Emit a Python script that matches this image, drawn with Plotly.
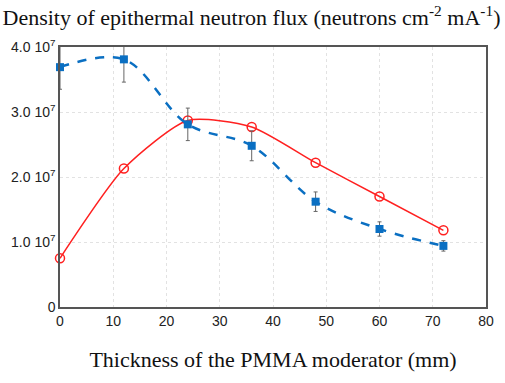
import plotly.graph_objects as go

thickness = [0, 12, 24, 36, 48, 60, 72]
red_values = [0.75e7, 2.13e7, 2.87e7, 2.77e7, 2.22e7, 1.70e7, 1.18e7]
blue_values = [3.69e7, 3.81e7, 2.81e7, 2.48e7, 1.62e7, 1.20e7, 0.94e7]
blue_errors = [0.34e7, 0.35e7, 0.25e7, 0.23e7, 0.15e7, 0.11e7, 0.08e7]
y_tickvals = [0, 1e7, 2e7, 3e7, 4e7]
y_ticktext = ["0", "1.0 10<sup>7</sup>", "2.0 10<sup>7</sup>", "3.0 10<sup>7</sup>", "4.0 10<sup>7</sup>"]
x_tickvals = [0, 10, 20, 30, 40, 50, 60, 70, 80]

fig = go.Figure()
fig.add_trace(go.Scatter(
    x=thickness, y=red_values, mode="lines+markers",
    line=dict(color="#ff2020", width=1.5, shape="spline", smoothing=0.65),
    marker=dict(symbol="circle-open", size=9, color="#ff2020", line=dict(width=1.5)),
    cliponaxis=False, showlegend=False))
fig.add_trace(go.Scatter(
    x=thickness, y=blue_values, mode="lines+markers",
    line=dict(color="#0a6fc2", width=2.5, dash="dash", shape="spline", smoothing=1.0),
    marker=dict(symbol="square", size=8, color="#0a6fc2"),
    error_y=dict(type="data", array=blue_errors, visible=True, color="#666666", thickness=1, width=2),
    cliponaxis=False, showlegend=False))

fig.update_layout(
    width=505, height=383,
    margin=dict(l=56, r=11, t=47, b=76),
    paper_bgcolor="white", plot_bgcolor="white",
    font=dict(family="Liberation Sans, Arial", size=14, color="#222222"),
    title=dict(text="Density of epithermal neutron flux (neutrons cm<sup>-2</sup> mA<sup>-1</sup>)",
               font=dict(family="Liberation Serif, Times New Roman", size=22, color="#111111"),
               x=0.005, xanchor="left", y=0.955, yanchor="middle"),
    xaxis=dict(range=[0, 80], tickvals=x_tickvals, showgrid=True,
               gridcolor="#e2e2e2", griddash="dot", gridwidth=1,
               showline=True, linecolor="#555555", linewidth=1.5, mirror=True,
               zeroline=False, ticks="", ticklen=0,
               title=dict(text="Thickness of the PMMA moderator (mm)",
                          font=dict(family="Liberation Serif, Times New Roman", size=22, color="#111111"),
                          standoff=24)),
    yaxis=dict(range=[0, 4e7], tickvals=y_tickvals, ticktext=y_ticktext, showgrid=True,
               gridcolor="#e2e2e2", griddash="dot", gridwidth=1,
               showline=True, linecolor="#555555", linewidth=1.5, mirror=True,
               zeroline=False, ticks="", ticklen=0),
)
fig.write_html("out.html", config={"displayModeBar": False},
               post_script="document.body.style.margin='0';")
